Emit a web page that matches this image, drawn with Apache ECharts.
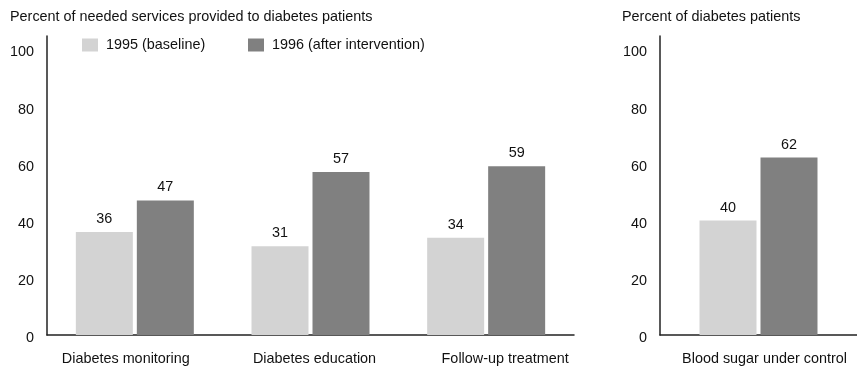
<!DOCTYPE html>
<html>
<head>
<meta charset="utf-8">
<script src="https://cdn.jsdelivr.net/npm/echarts@6/dist/echarts.min.js"></script>
<style>
  html, body { margin: 0; padding: 0; background: #fff; }
  #chart { width: 857px; height: 368px; }
</style>
</head>
<body>
<div id="chart"></div>
<script>
// Services delivered to diabetes patients, before and after the intervention
const serviceCategories = ['Diabetes monitoring', 'Diabetes education', 'Follow-up treatment'];
const services1995 = [36, 31, 34];
const services1996 = [47, 57, 59];

// Outcome panel
const outcomeCategories = ['Blood sugar under control'];
const outcome1995 = [40];
const outcome1996 = [62];

const seriesNames = ['1995 (baseline)', '1996 (after intervention)'];
const yTickStep = 20;

const FONT = 'Liberation Sans, Arial, Helvetica, sans-serif';
const FS = 14.4;
const TEXT = '#111';
const LIGHT = '#d3d3d3';
const DARK = '#808080';
const AXIS = '#222';

// horizontal nudge for a category label (positive = right)
function nudge(px) {
  return px >= 0 ? { padding: [0, 0, 0, 2 * px] } : { padding: [0, -2 * px, 0, 0] };
}

function categoryAxis(gridIndex, data, shifts) {
  const rich = {};
  shifts.forEach((s, i) => {
    rich['c' + i] = Object.assign({ fontFamily: FONT, fontSize: FS, color: TEXT }, nudge(s));
  });
  return {
    type: 'category', gridIndex, data,
    axisLine: { show: true, lineStyle: { color: AXIS, width: 1.5 } },
    axisTick: { show: false },
    axisLabel: {
      margin: 17, interval: 0,
      formatter: (v, i) => '{c' + i + '|' + v + '}',
      rich
    }
  };
}

function valueAxis(gridIndex) {
  return {
    type: 'value', gridIndex, min: 0, max: 104.5, interval: yTickStep,
    axisLine: { show: true, lineStyle: { color: AXIS, width: 1.5 } },
    axisTick: { show: false },
    splitLine: { show: false },
    axisLabel: {
      showMaxLabel: false, margin: 13,
      formatter: v => '{v|' + v + '}',
      rich: { v: { fontFamily: FONT, fontSize: FS, color: TEXT, padding: [7, 0, 0, 0] } }
    }
  };
}

function barSeries(name, data, axisIdx, color) {
  return {
    type: 'bar', name, data,
    xAxisIndex: axisIdx, yAxisIndex: axisIdx,
    barWidth: 57, barGap: '7%',
    itemStyle: { color },
    label: {
      show: true, position: 'top', distance: 6,
      fontFamily: FONT, fontSize: FS, color: TEXT
    },
    emphasis: { disabled: true }
  };
}

const legendBase = {
  top: 38, padding: 0, itemWidth: 16, itemHeight: 13, icon: 'rect',
  textStyle: { fontFamily: FONT, fontSize: FS, color: TEXT, padding: [0, 0, 0, 3] },
  selectedMode: false
};

const titleText = { fontFamily: FONT, fontSize: FS, fontWeight: 'normal', color: TEXT };

const option = {
  animation: false,
  backgroundColor: '#fff',
  textStyle: { fontFamily: FONT },
  title: [
    { text: 'Percent of needed services provided to diabetes patients', left: 10, top: 10, padding: 0,
      textStyle: titleText },
    { text: 'Percent of diabetes patients', left: 622, top: 10, padding: 0,
      textStyle: titleText }
  ],
  legend: [
    Object.assign({ left: 82, data: [seriesNames[0]] }, legendBase),
    Object.assign({ left: 248, data: [seriesNames[1]] }, legendBase)
  ],
  grid: [
    { left: 47, top: 36, width: 527, height: 299 },
    { left: 660, top: 36, width: 203, height: 299 }
  ],
  xAxis: [
    categoryAxis(0, serviceCategories, [-9, 4, 19]),
    categoryAxis(1, outcomeCategories, [6])
  ],
  yAxis: [valueAxis(0), valueAxis(1)],
  series: [
    barSeries(seriesNames[0], services1995, 0, LIGHT),
    barSeries(seriesNames[1], services1996, 0, DARK),
    barSeries(seriesNames[0], outcome1995, 1, LIGHT),
    barSeries(seriesNames[1], outcome1996, 1, DARK)
  ]
};

const chart = echarts.init(document.getElementById('chart'), null, { renderer: 'canvas' });
chart.setOption(option);
</script>
</body>
</html>
